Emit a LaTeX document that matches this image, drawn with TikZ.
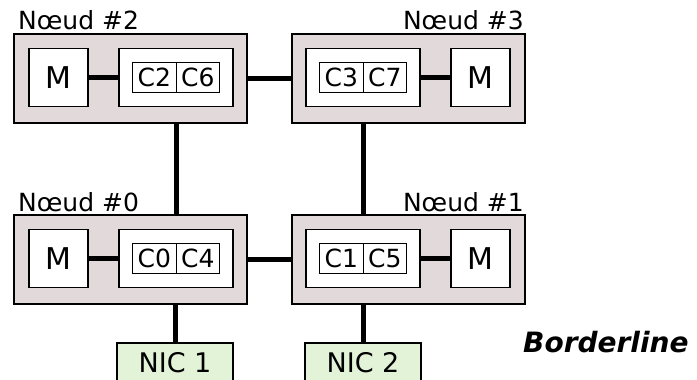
\documentclass[tikz,border=0pt]{standalone}
\usepackage{fontspec}
\setmainfont{DejaVu Sans}
\usepackage{xcolor}
\usepackage{tikz}
\definecolor{NodeFill}{HTML}{E2DADA}
\definecolor{NicFill}{HTML}{E2F3D8}
\tikzset{
  noeud/.style={draw,line width=2pt,fill=NodeFill,minimum width=233pt,minimum height=89pt,inner sep=0pt},
  mem/.style={draw,line width=1.6pt,fill=white,minimum width=59pt,minimum height=58pt,inner sep=0pt,font=\fontsize{30}{34}\selectfont},
  cpu/.style={draw,line width=1.6pt,fill=white,minimum width=114pt,minimum height=58pt,inner sep=0pt},
  coeur/.style={draw,line width=1pt,minimum width=43.5pt,minimum height=30pt,inner sep=0pt,font=\fontsize{25}{28}\selectfont},
  nic/.style={draw,line width=1.4pt,fill=NicFill,minimum width=116pt,minimum height=40pt,inner sep=0pt,font=\fontsize{27}{32}\selectfont},
  lien/.style={line width=5pt},
  titre/.style={inner sep=0pt,font=\fontsize{25}{28}\selectfont}
}

\begin{document}
\begin{tikzpicture}[x=1pt,y=-1pt]
  \useasboundingbox (0,0) rectangle (697,380);
  % the four blocks: outer box, memory, socket with its two cores
  \foreach \i/\cx/\cy/\mx/\px/\ca/\cb/\lx/\la in {2/130.5/78.5/58.5/176/2/6/18/west,3/408.5/78.5/480.5/363/3/7/524/east,0/130.5/259.5/58.5/176/0/4/18/west,1/408.5/259.5/480.5/363/1/5/524/east} {
    \node[noeud] (n\i) at (\cx,\cy) {};
    \node[titre,anchor=base \la] (t\i) at (\lx,{\cy-48.5}) {Nœud \#\i};
    \node[mem] (m\i) at (\mx,{\cy-1}) {M};
    \node[cpu] (cpu\i) at (\px,{\cy-1}) {};
    \node[coeur] (c\ca) at ({\px-21.75},{\cy-1}) {C\ca};
    \node[coeur] (c\cb) at ({\px+21.75},{\cy-1}) {C\cb};
    \draw[lien] (m\i) -- (cpu\i);
  }
  \node[nic] (nic1) at (175,363) {NIC 1};
  \node[nic] (nic2) at (363,363) {NIC 2};
  \node[inner sep=0pt,anchor=base west,font=\fontsize{28}{32}\selectfont\bfseries\itshape] (bl) at (523,352) {Borderline};
  % links between the blocks
  \draw[lien] (n2.east) -- (n3.west);
  \draw[lien] (n0.east) -- (n1.west);
  \draw[lien] (n2.south -| cpu2) -- (n0.north -| cpu0);
  \draw[lien] (n3.south -| cpu3) -- (n1.north -| cpu1);
  \draw[lien] (n0.south -| nic1) -- (nic1.north);
  \draw[lien] (n1.south -| nic2) -- (nic2.north);
\end{tikzpicture}
\end{document}
